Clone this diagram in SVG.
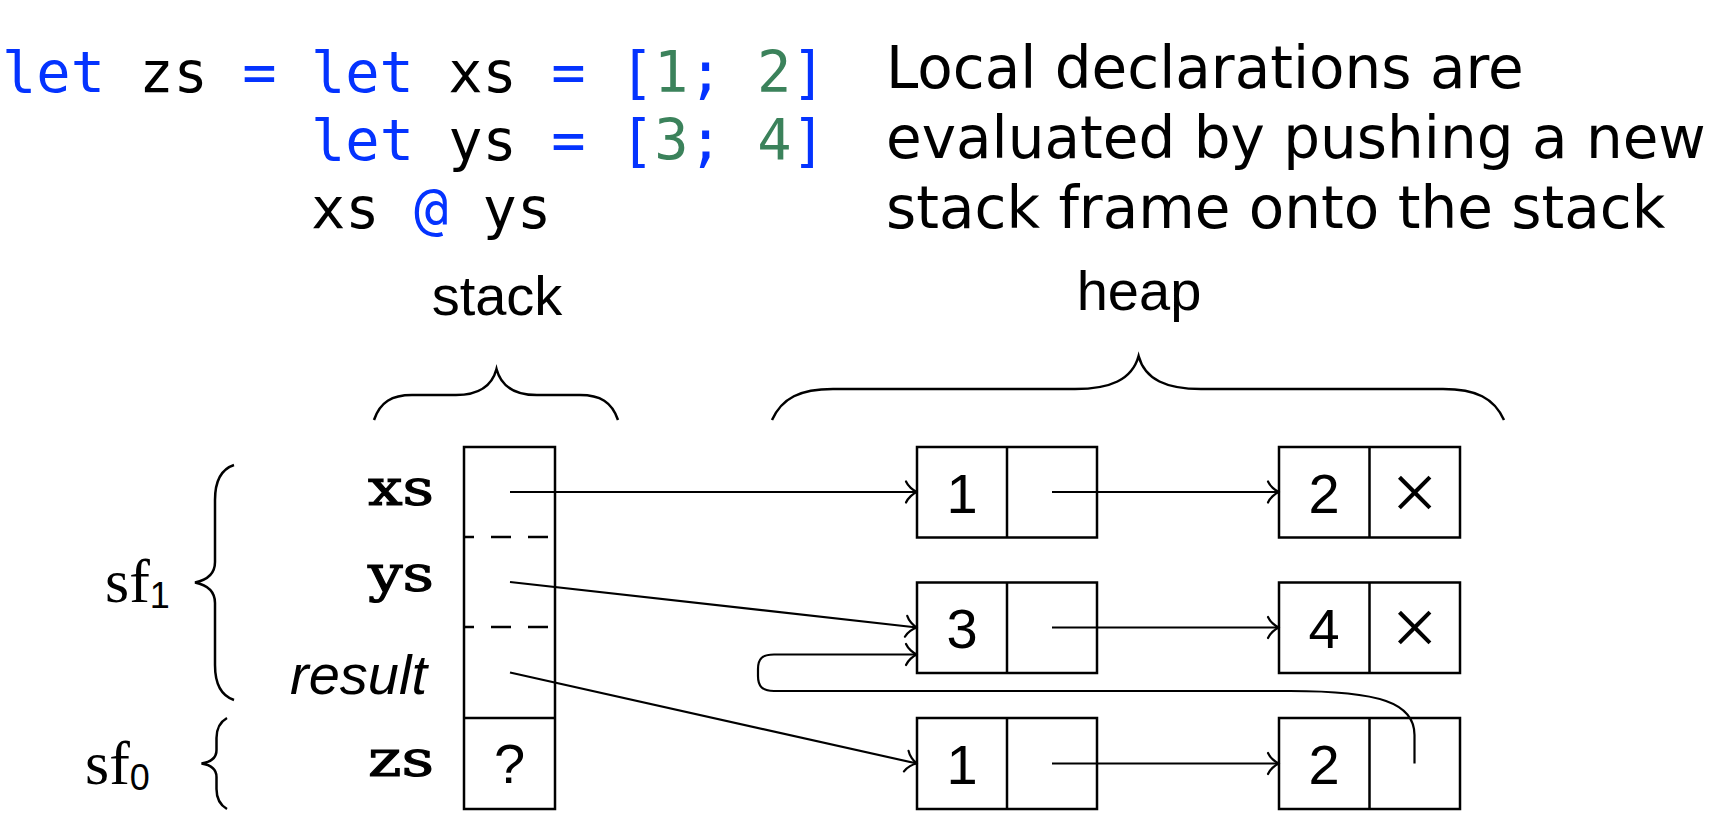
<svg xmlns="http://www.w3.org/2000/svg" width="1712" height="834" viewBox="0 0 1712 834">
<style>
.kw{fill:#0433FF}
.num{fill:#3B825B}
.code{font-family:"DejaVu Sans Mono","Liberation Mono",monospace;font-size:57px;fill:#000}
.note{font-family:"DejaVu Sans","Liberation Sans",sans-serif;font-size:58px;fill:#000}
.sans{font-family:"Liberation Sans",Arial,sans-serif;font-size:56px;fill:#000}
.tt{font-family:"DejaVu Serif","Liberation Serif",serif;font-size:50px;fill:#000;stroke:#000;stroke-width:1.1}
.serif{font-family:"Liberation Serif","Times New Roman",serif;font-size:62px;fill:#000}
.sub{font-family:"Liberation Sans",Arial,sans-serif;font-size:36px}
.times{font-family:"Liberation Serif","Times New Roman",serif;font-size:82px;fill:#000;text-anchor:middle}
.box{fill:none;stroke:#000;stroke-width:2.5}
.dash{fill:none;stroke:#000;stroke-width:2.5;stroke-dasharray:20 17;stroke-dashoffset:10}
.brace{fill:none;stroke:#000;stroke-width:2.5}
.conn{fill:none;stroke:#000;stroke-width:2.2;marker-end:url(#to)}
.mid{text-anchor:middle}
</style>
<defs>
<marker id="to" markerUnits="userSpaceOnUse" orient="auto" refX="0" refY="0" viewBox="-14 -13 16 26" markerWidth="16" markerHeight="26" overflow="visible">
<path d="M -11 -10.5 C -9 -6, -4 -1.5, 0 0 C -4 1.5, -9 6, -11 10.5" fill="none" stroke="#000" stroke-width="2.2" stroke-linecap="round" stroke-linejoin="round"/>
</marker>
</defs>

<g id="code">
<text class="code" x="2" y="92" xml:space="preserve"><tspan class="kw">let</tspan> zs <tspan class="kw">=</tspan> <tspan class="kw">let</tspan> xs <tspan class="kw">=</tspan> <tspan class="kw">[</tspan><tspan class="num">1</tspan><tspan class="kw">;</tspan> <tspan class="num">2</tspan><tspan class="kw">]</tspan></text>
<text class="code" x="311" y="160" xml:space="preserve"><tspan class="kw">let</tspan> ys <tspan class="kw">=</tspan> <tspan class="kw">[</tspan><tspan class="num">3</tspan><tspan class="kw">;</tspan> <tspan class="num">4</tspan><tspan class="kw">]</tspan></text>
<text class="code" x="311" y="228" xml:space="preserve">xs <tspan class="kw">@</tspan> ys</text>
</g>

<g id="note">
<text class="note" x="886" y="88">Local declarations are</text>
<text class="note" x="886" y="158">evaluated by pushing a new</text>
<text class="note" x="886" y="228">stack frame onto the stack</text>
</g>

<g id="stack-label">
<text class="sans mid" x="497" y="315">stack</text>
<path class="brace" d="M 374 420 C 380 402, 392 395, 412 395 L 456 395 C 478 395, 492 386, 496.5 369 C 501 386, 515 395, 537 395 L 580 395 C 600 395, 612 402, 618 420"/>
</g>

<g id="heap-label">
<text class="sans mid" x="1139" y="309.5">heap</text>
<path class="brace" d="M 772 420 C 782 398, 800 389, 833 389 L 1075 389 C 1110 389, 1132 380, 1138.6 356 C 1145 380, 1167 389, 1201 389 L 1443 389 C 1476 389, 1494 398, 1504 420"/>
</g>

<g id="sf1">
<text class="serif" x="105" y="602">sf<tspan class="sub" dy="6">1</tspan></text>
<path class="brace" d="M 234 465 C 222 469, 215 480, 215 500 L 215 562 C 215 574, 207 580, 195 582.5 C 207 585, 215 591, 215 603 L 215 665 C 215 685, 222 696, 234 700"/>
</g>

<g id="sf0">
<text class="serif" x="85" y="784">sf<tspan class="sub" dy="6">0</tspan></text>
<path class="brace" d="M 227 718 C 220 722, 216.5 728, 216.5 738 L 216.5 750 C 216.5 758, 211 762, 201.5 763.5 C 211 765, 216.5 769, 216.5 777 L 216.5 789 C 216.5 799, 220 805, 227 809"/>
</g>

<g id="stack">
<rect class="box" x="464" y="447" width="91" height="362"/>
<line class="dash" x1="464" y1="537" x2="555" y2="537"/>
<line class="dash" x1="464" y1="627" x2="555" y2="627"/>
<line class="box" x1="464" y1="718" x2="555" y2="718"/>
<text class="tt" x="434" y="505" text-anchor="end" textLength="66" lengthAdjust="spacingAndGlyphs">xs</text>
<text class="tt" x="434" y="591" text-anchor="end" textLength="66" lengthAdjust="spacingAndGlyphs">ys</text>
<text class="sans" x="427" y="694" text-anchor="end" font-style="italic">result</text>
<text class="tt" x="434" y="776" text-anchor="end" textLength="66" lengthAdjust="spacingAndGlyphs">zs</text>
<text class="sans mid" x="509.5" y="783">?</text>
</g>

<g id="cell-1a">
<rect class="box" x="917" y="447" width="180" height="90.5"/>
<line class="box" x1="1007" y1="447" x2="1007" y2="537.5"/>
<text class="sans mid" x="962" y="512.5">1</text>
</g>
<g id="cell-2a">
<rect class="box" x="1279" y="447" width="181" height="90.5"/>
<line class="box" x1="1369.5" y1="447" x2="1369.5" y2="537.5"/>
<text class="sans mid" x="1324" y="512.5">2</text>
<text class="times" x="1414.5" y="519.5">×</text>
</g>
<g id="cell-3">
<rect class="box" x="917" y="582.5" width="180" height="90.5"/>
<line class="box" x1="1007" y1="582.5" x2="1007" y2="673"/>
<text class="sans mid" x="962" y="648">3</text>
</g>
<g id="cell-4">
<rect class="box" x="1279" y="582.5" width="181" height="90.5"/>
<line class="box" x1="1369.5" y1="582.5" x2="1369.5" y2="673"/>
<text class="sans mid" x="1324" y="648">4</text>
<text class="times" x="1414.5" y="655">×</text>
</g>
<g id="cell-1b">
<rect class="box" x="917" y="718" width="180" height="91"/>
<line class="box" x1="1007" y1="718" x2="1007" y2="809"/>
<text class="sans mid" x="962" y="784">1</text>
</g>
<g id="cell-2b">
<rect class="box" x="1279" y="718" width="181" height="91"/>
<line class="box" x1="1369.5" y1="718" x2="1369.5" y2="809"/>
<text class="sans mid" x="1324" y="784">2</text>
</g>

<g id="connectors">
<path class="conn" d="M 510 492 L 917 492"/>
<path class="conn" d="M 510 582 L 917 627.5"/>
<path class="conn" d="M 510 672.5 L 917 763.5"/>
<path class="conn" d="M 1052 492 L 1279 492"/>
<path class="conn" d="M 1052 627.5 L 1279 627.5"/>
<path class="conn" d="M 1052 763.5 L 1279 763.5"/>
<path class="conn" d="M 1414.5 763.5 L 1414.5 735 C 1414.5 703, 1380 691, 1290 691 L 774 691 C 762 691, 758 686, 758 676 L 758 669 C 758 659, 762 654.5, 774 654.5 L 917 654.5"/>
</g>
</svg>
